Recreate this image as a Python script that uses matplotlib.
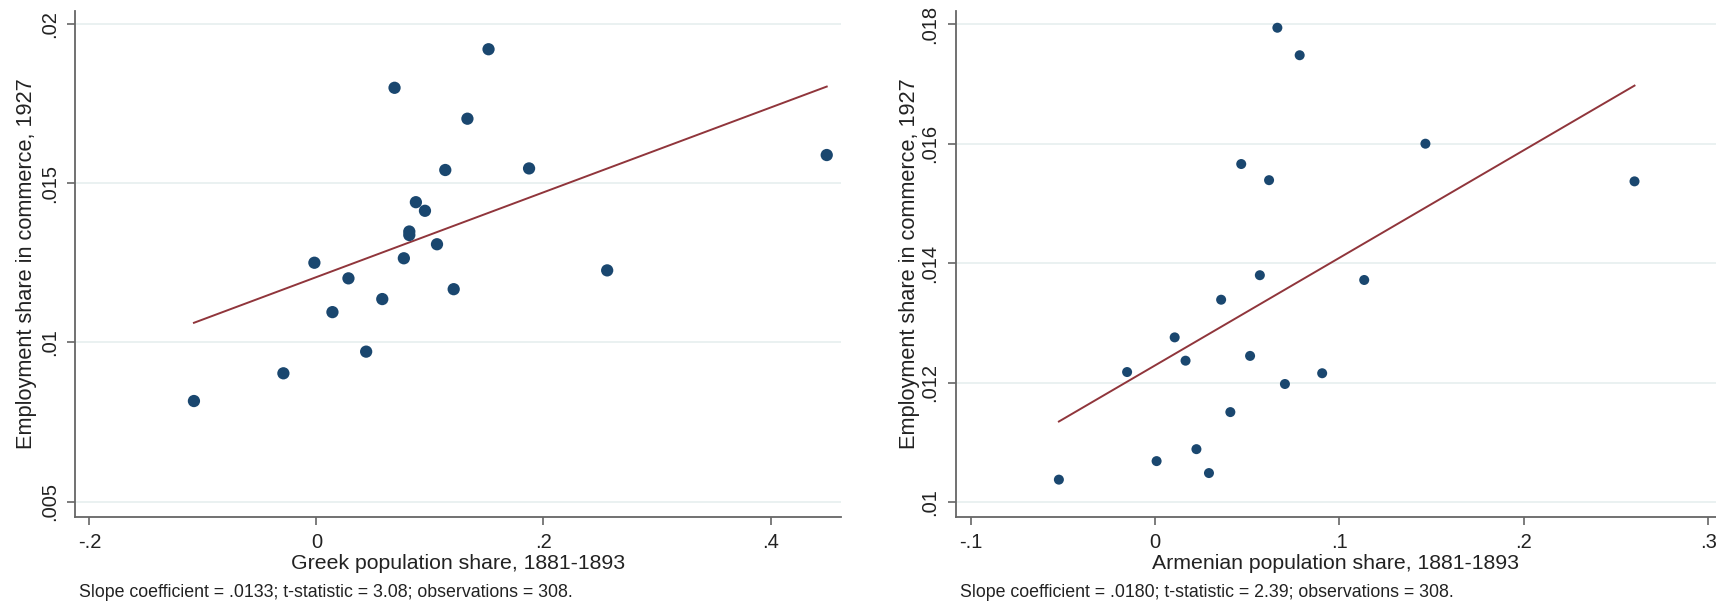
import matplotlib
matplotlib.use("Agg")
import matplotlib.pyplot as plt
import numpy as np

# ---- Data ----
greek_x = [-0.1079, -0.0291, -0.0018, 0.0141, 0.0282, 0.0438, 0.0580, 0.0688, 0.0770,
           0.0818, 0.0818, 0.0876, 0.0956, 0.1062, 0.1135, 0.1209, 0.1330, 0.1516,
           0.1873, 0.2561, 0.4495]
greek_y = [0.00816, 0.00903, 0.01250, 0.01095, 0.01201, 0.00971, 0.01136, 0.01799, 0.01264,
           0.01348, 0.01337, 0.01440, 0.01413, 0.01308, 0.01541, 0.01167, 0.01702, 0.01920,
           0.01546, 0.01226, 0.01588]
greek_slope = 0.0133
greek_intercept = 0.01205

arm_x = [-0.0521, -0.0151, 0.0009, 0.0107, 0.0166, 0.0225, 0.0293, 0.0359, 0.0409, 0.0468,
         0.0516, 0.0569, 0.0619, 0.0664, 0.0705, 0.0785, 0.0907, 0.1135, 0.1467, 0.2601]
arm_y = [0.01038, 0.01218, 0.01069, 0.01276, 0.01237, 0.01089, 0.01049, 0.01339, 0.01151, 0.01566,
         0.01245, 0.01380, 0.01539, 0.01794, 0.01198, 0.01748, 0.01216, 0.01372, 0.01600, 0.01537]
arm_slope = 0.0180
arm_intercept = 0.01229

greek_xticks = [-0.2, 0, 0.2, 0.4]
greek_xticklabels = ["-.2", "0", ".2", ".4"]
greek_yticks = [0.005, 0.01, 0.015, 0.02]
greek_yticklabels = [".005", ".01", ".015", ".02"]

arm_xticks = [-0.1, 0, 0.1, 0.2, 0.3]
arm_xticklabels = ["-.1", "0", ".1", ".2", ".3"]
arm_yticks = [0.01, 0.012, 0.014, 0.016, 0.018]
arm_yticklabels = [".01", ".012", ".014", ".016", ".018"]

ylabel = "Employment share in commerce, 1927"
greek_xlabel = "Greek population share, 1881-1893"
arm_xlabel = "Armenian population share, 1881-1893"
greek_note = "Slope coefficient = .0133; t-statistic = 3.08; observations = 308."
arm_note = "Slope coefficient = .0180; t-statistic = 2.39; observations = 308."

# ---- Style ----
plt.rcParams['font.family'] = ['Liberation Sans', 'DejaVu Sans']
NAVY = "#1a476f"
MAROON = "#90353b"
GRID = "#e8f0f0"
SPINE = "#666666"
TEXT = "#222222"

W, H = 1716, 605
fig = plt.figure(figsize=(W / 100, H / 100), dpi=100)
fig.patch.set_facecolor("white")


def frac_box(x0, x1, ytop, ybot):
    return [x0 / W, 1 - ybot / H, (x1 - x0) / W, (ybot - ytop) / H]


def panel(rect, xs, ys, slope, intercept, xlim, ylim, xticks, xtl, yticks, ytl,
          xlabel, ms, ylab_x):
    ax = fig.add_axes(rect)
    ax.set_xlim(*xlim)
    ax.set_ylim(*ylim)
    for yt in yticks:
        ax.axhline(yt, color=GRID, lw=1.3, zorder=0)
    ax.scatter(xs, ys, s=ms, color=NAVY, edgecolors="none", zorder=3)
    lx = np.array([min(xs), max(xs)])
    ax.plot(lx, intercept + slope * lx, color=MAROON, lw=1.4, zorder=2)
    for s in ["top", "right"]:
        ax.spines[s].set_visible(False)
    for s in ["left", "bottom"]:
        ax.spines[s].set_color(SPINE)
        ax.spines[s].set_linewidth(1.3)
    ax.set_xticks(xticks)
    ax.set_xticklabels(xtl)
    ax.set_yticks(yticks)
    ax.set_yticklabels(ytl, rotation=90, va="center")
    ax.tick_params(axis="both", direction="out", length=6, width=1.2,
                   color=SPINE, labelsize=14.5, labelcolor=TEXT)
    ax.tick_params(axis="x", pad=6)
    ax.tick_params(axis="y", pad=6)
    ax.set_xlabel(xlabel, fontsize=15.3, color=TEXT, labelpad=1)
    ax.set_ylabel(ylabel, fontsize=15.7, color=TEXT)
    ax.yaxis.set_label_coords(ylab_x, 0.5)
    return ax


ax1 = panel(frac_box(75.3, 840.7, 11, 516.7), greek_x, greek_y, greek_slope, greek_intercept,
            (-0.2124, 0.4618), (0.00453, 0.0204),
            greek_xticks, greek_xticklabels, greek_yticks, greek_yticklabels,
            greek_xlabel, 78, -0.0505)
ax2 = panel(frac_box(956, 1716, 11, 516.7), arm_x, arm_y, arm_slope, arm_intercept,
            (-0.1079, 0.3043), (0.00976, 0.01822),
            arm_xticks, arm_xticklabels, arm_yticks, arm_yticklabels,
            arm_xlabel, 52, -0.048)

fig.text(79 / W, 1 - 592.7 / H, greek_note, fontsize=12.8, color=TEXT, va="center", ha="left")
fig.text(960 / W, 1 - 592.7 / H, arm_note, fontsize=12.8, color=TEXT, va="center", ha="left")

fig.savefig("out.png", dpi=100, facecolor="white")
